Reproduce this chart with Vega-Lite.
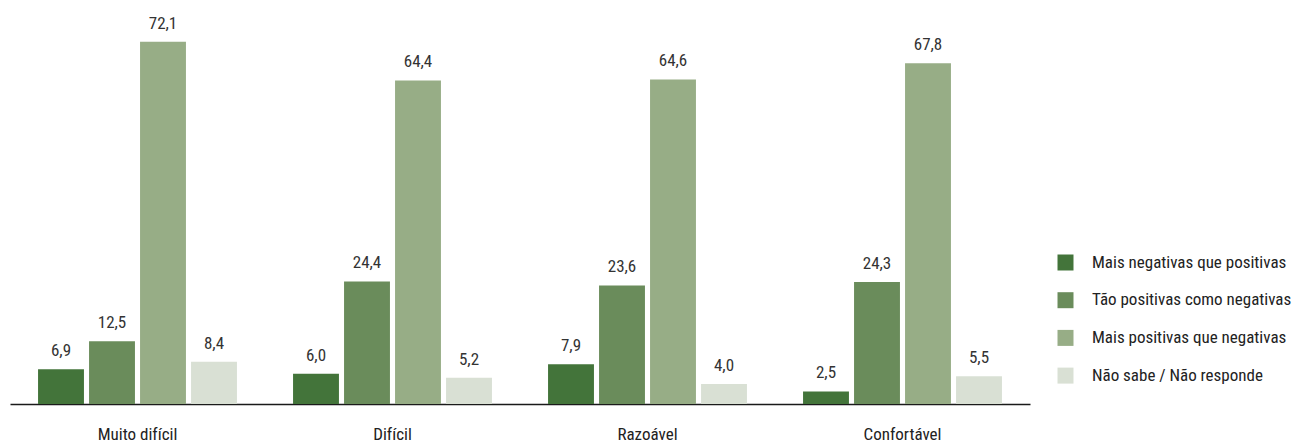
{
  "$schema": "https://vega.github.io/schema/vega-lite/v6.json",
  "width": 1020,
  "height": 402,
  "autosize": {"type": "none"},
  "padding": {"left": 10, "top": 2, "right": 267, "bottom": 39},
  "background": "#ffffff",
  "config": {
    "font": "Roboto Condensed, DejaVu Sans Condensed, Liberation Sans Narrow, Arial Narrow, sans-serif",
    "view": {"stroke": null},
    "locale": {"number": {"decimal": ",", "thousands": ".", "grouping": [3], "currency": ["", " €"]}}
  },
  "data": {
    "values": [
      {"grupo": "Muito difícil", "resp": "Mais negativas que positivas", "v": 6.9},
      {"grupo": "Muito difícil", "resp": "Tão positivas como negativas", "v": 12.5},
      {"grupo": "Muito difícil", "resp": "Mais positivas que negativas", "v": 72.1},
      {"grupo": "Muito difícil", "resp": "Não sabe / Não responde", "v": 8.4},
      {"grupo": "Difícil", "resp": "Mais negativas que positivas", "v": 6.0},
      {"grupo": "Difícil", "resp": "Tão positivas como negativas", "v": 24.4},
      {"grupo": "Difícil", "resp": "Mais positivas que negativas", "v": 64.4},
      {"grupo": "Difícil", "resp": "Não sabe / Não responde", "v": 5.2},
      {"grupo": "Razoável", "resp": "Mais negativas que positivas", "v": 7.9},
      {"grupo": "Razoável", "resp": "Tão positivas como negativas", "v": 23.6},
      {"grupo": "Razoável", "resp": "Mais positivas que negativas", "v": 64.6},
      {"grupo": "Razoável", "resp": "Não sabe / Não responde", "v": 4.0},
      {"grupo": "Confortável", "resp": "Mais negativas que positivas", "v": 2.5},
      {"grupo": "Confortável", "resp": "Tão positivas como negativas", "v": 24.3},
      {"grupo": "Confortável", "resp": "Mais positivas que negativas", "v": 67.8},
      {"grupo": "Confortável", "resp": "Não sabe / Não responde", "v": 5.5}
    ]
  },
  "encoding": {
    "x": {
      "field": "grupo", "type": "nominal",
      "sort": ["Muito difícil", "Difícil", "Razoável", "Confortável"],
      "scale": {"paddingInner": 0.22, "paddingOuter": 0.11},
      "axis": {
        "title": null, "labelAngle": 0, "ticks": false, "domainColor": "#1a1a1a", "domainWidth": 1.5,
        "labelFontSize": 17, "labelFontWeight": "normal", "labelColor": "#222222", "labelPadding": 30, "labelBaseline": "middle"
      }
    },
    "xOffset": {
      "field": "resp", "type": "nominal",
      "sort": ["Mais negativas que positivas", "Tão positivas como negativas", "Mais positivas que negativas", "Não sabe / Não responde"],
      "scale": {"paddingInner": 0.1, "paddingOuter": 0}
    },
    "y": {
      "field": "v", "type": "quantitative",
      "scale": {"domain": [0, 80]},
      "axis": null
    }
  },
  "layer": [
    {
      "mark": {"type": "bar"},
      "encoding": {
        "color": {
          "field": "resp", "type": "nominal",
          "sort": ["Mais negativas que positivas", "Tão positivas como negativas", "Mais positivas que negativas", "Não sabe / Não responde"],
          "scale": {"range": ["#43743a", "#6a8c5b", "#97ad86", "#d9e0d4"]},
          "legend": {
            "title": null, "orient": "none", "legendX": 1047, "legendY": 252,
            "symbolType": "square", "symbolSize": 256, "symbolStrokeWidth": 0, "symbolOpacity": 1,
            "labelFontSize": 17, "labelFontWeight": "normal", "labelColor": "#222222", "labelOffset": 18, "rowPadding": 19.7, "labelLimit": 0
          }
        }
      }
    },
    {
      "mark": {"type": "text", "baseline": "alphabetic", "dy": -13, "fontSize": 17, "fontWeight": "normal", "color": "#333333"},
      "encoding": {
        "text": {"field": "v", "type": "quantitative", "format": ".1f"}
      }
    }
  ]
}
